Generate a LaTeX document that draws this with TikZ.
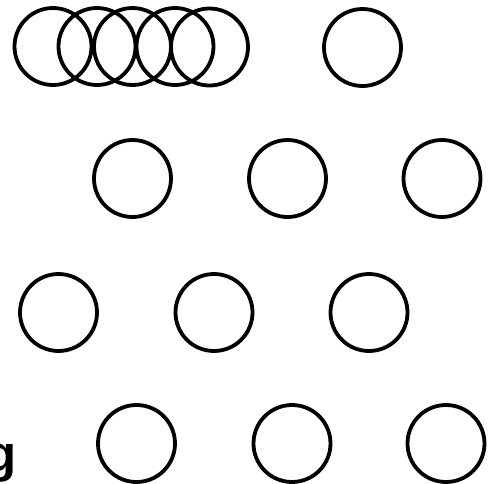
\documentclass[tikz,border=0pt]{standalone}
\usepackage{fontspec}
\newfontfamily\gfont{Liberation Sans}
\begin{document}
\begin{tikzpicture}[x=1pt,y=-1pt,
  ring/.style={circle,draw=black,line width=3.8pt,minimum size=77pt,inner sep=0pt}]
\useasboundingbox (0,0) rectangle (491,483);
\clip (0,0) rectangle (491,483);
% row 1
\node[ring] (a1) at (53,46.5) {};
\node[ring] (a2) at (97,46.5) {};
\node[ring] (a3) at (132.5,46.5) {};
\node[ring] (a4) at (175,46.5) {};
\node[ring] (a5) at (209.5,47) {};
\node[ring] (a6) at (362.5,47.5) {};
% row 2
\node[ring] (b1) at (132.5,178.5) {};
\node[ring] (b2) at (287.5,178.5) {};
\node[ring] (b3) at (442,178.5) {};
% row 3
\node[ring] (c1) at (58.5,312.5) {};
\node[ring] (c2) at (214,312.5) {};
\node[ring] (c3) at (369,312.5) {};
% row 4
\node[ring] (d1) at (136.5,443.5) {};
\node[ring] (d2) at (292,443.5) {};
\node[ring] (d3) at (446,443.5) {};
% letter at the left edge
\node[anchor=base east,inner sep=0pt,font=\gfont\bfseries\fontsize{51}{51}\selectfont] (g) at (17,471) {g};
\end{tikzpicture}
\end{document}
